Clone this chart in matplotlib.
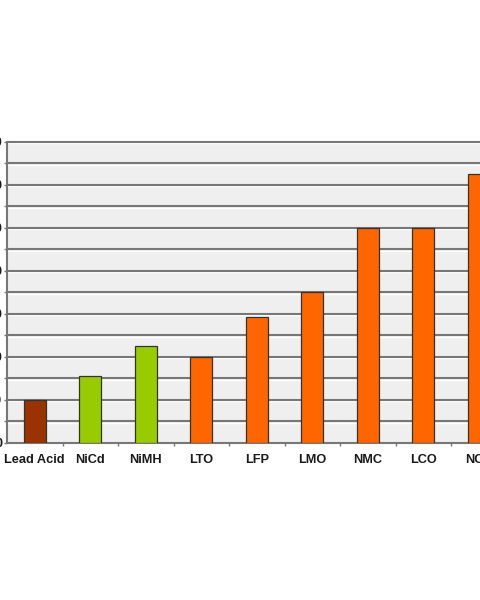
import matplotlib
matplotlib.use("Agg")
import matplotlib.pyplot as plt
from matplotlib.ticker import MultipleLocator
import matplotlib.transforms as mtransforms

categories = ["Lead Acid", "NiCd", "NiMH", "LTO", "LFP", "LMO", "NMC", "LCO", "NCA"]
values = [40, 62, 90, 80, 117, 140, 200, 200, 250]
colors = ["#993300", "#99CC00", "#99CC00", "#FF6600", "#FF6600",
          "#FF6600", "#FF6600", "#FF6600", "#FF6600"]
y_ticks = [0, 40, 80, 120, 160, 200, 240, 280]
grid_vals = [20, 40, 60, 80, 100, 120, 140, 160, 180, 200, 220, 240, 260, 280]

plt.rcParams['font.family'] = ['Liberation Sans', 'DejaVu Sans']

fig = plt.figure(figsize=(4.8, 6.0), dpi=100)
fig.patch.set_facecolor("white")
ax = fig.add_axes([7 / 480, 157.3 / 600, 499.5 / 480, 301.0 / 600])
ax.set_facecolor("#EFEFEF")

x = list(range(len(categories)))
ax.set_xlim(-0.5, len(categories) - 0.5)
ax.set_ylim(0, 280)

# gridlines with light emboss line underneath
base = ax.get_yaxis_transform()
shift = base + mtransforms.ScaledTranslation(0, -1.5 / 100, fig.dpi_scale_trans)
for g in grid_vals:
    ax.plot([0, 1], [g, g], color="white", linewidth=1.0, zorder=1,
            transform=shift, clip_on=False, solid_capstyle="butt")
    ax.plot([0, 1], [g, g], color="#777777", linewidth=1.5, zorder=1.5,
            transform=base, clip_on=False, solid_capstyle="butt")

ax.bar(x, values, width=0.39, color=colors, edgecolor="#333333",
       linewidth=0.9, zorder=3)

ax.set_yticks(y_ticks)
ax.set_yticklabels([str(v) for v in y_ticks])
ax.yaxis.set_minor_locator(MultipleLocator(20))
ax.tick_params(axis='y', which='both', direction='out', length=2.2,
               width=1.0, color="#777777", pad=1.2, labelsize=9,
               labelcolor="#1A1A1A")
for lbl in ax.get_yticklabels():
    lbl.set_fontweight("bold")

ax.set_xticks(x)
ax.set_xticklabels(categories, fontsize=9.2, fontweight="bold", color="#1A1A1A")
ax.tick_params(axis='x', which='major', length=0, pad=8)
ax.set_xticks([i + 0.5 for i in x[:-1]], minor=True)
ax.tick_params(axis='x', which='minor', direction='out', length=2.2,
               width=1.0, color="#777777")

for side in ["top", "right"]:
    ax.spines[side].set_visible(False)
ax.spines["left"].set_color("#777777")
ax.spines["left"].set_linewidth(1.5)
ax.spines["bottom"].set_color("#777777")
ax.spines["bottom"].set_linewidth(1.5)
ax.set_axisbelow(True)

fig.savefig("out.png", dpi=100, facecolor="white")
